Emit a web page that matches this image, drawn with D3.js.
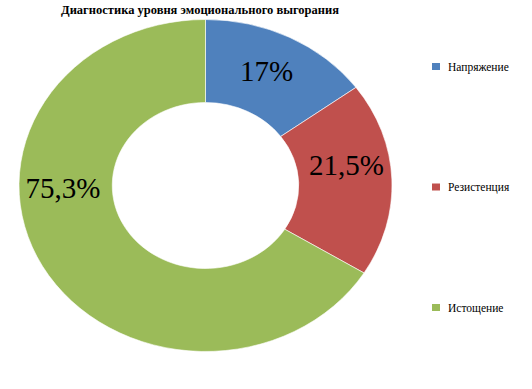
<!DOCTYPE html>
<html>
<head>
<meta charset="utf-8">
<script src="https://cdn.jsdelivr.net/npm/d3@7"></script>
<style>
  body { margin: 0; background: #fff; }
</style>
</head>
<body>
<div id="chart"></div>
<script>
// data
var categories = ["Напряжение", "Резистенция", "Истощение"];
var values = [17, 21.5, 75.3];
var labels = ["17%", "21,5%", "75,3%"];
var colors = ["#4F81BD", "#C0504D", "#9BBB59"];
// small angle nudges (deg) for the data labels, like the hand placed ones in the original
var labelNudge = [-1.5, -7, 28];

var width = 532, height = 389;
var cx = 205.5, cy = 185.5;
var outerR = 166, innerR = 83;
var stretch = 186.5 / 166;   // the original pie is a bit wider than tall
var serif = "'Times New Roman', Times, Tinos, 'Noto Serif', 'Liberation Serif', 'DejaVu Serif', serif";

var svg = d3.select("#chart")
  .append("svg")
  .attr("width", width)
  .attr("height", height);

// title
svg.append("text")
  .attr("x", 200)
  .attr("y", 14)
  .attr("text-anchor", "middle")
  .style("font-family", serif)
  .style("font-size", "12.5px")
  .style("font-weight", "bold")
  .text("Диагностика уровня эмоционального выгорания");

var pie = d3.pie().sort(null).value(function(d){ return d; });
var arcs = pie(values);

var arc = d3.arc().innerRadius(innerR).outerRadius(outerR);

var g = svg.append("g")
  .attr("transform", "translate(" + cx + "," + cy + ") scale(" + stretch + ",1)");

g.selectAll("path")
  .data(arcs)
  .enter()
  .append("path")
    .attr("d", arc)
    .attr("fill", function(d, i){ return colors[i]; })
    .attr("stroke", "#fff")
    .attr("stroke-width", 0.6)
    .attr("vector-effect", "non-scaling-stroke");

// data labels
var labelR = 127;
svg.selectAll(".lbl")
  .data(arcs)
  .enter()
  .append("text")
    .attr("class", "lbl")
    .attr("x", function(d, i){
      var a = (d.startAngle + d.endAngle) / 2 + labelNudge[i] * Math.PI / 180;
      return cx + Math.sin(a) * labelR * stretch;
    })
    .attr("y", function(d, i){
      var a = (d.startAngle + d.endAngle) / 2 + labelNudge[i] * Math.PI / 180;
      return cy - Math.cos(a) * labelR;
    })
    .attr("dy", "0.35em")
    .attr("text-anchor", "middle")
    .style("font-family", serif)
    .style("font-size", "29px")
    .attr("fill", "#000")
    .text(function(d, i){ return labels[i]; });

// legend
var legendY = d3.scalePoint()
  .domain(categories)
  .range([66.5, 307.5]);

var legend = svg.selectAll(".legend")
  .data(categories)
  .enter()
  .append("g")
    .attr("class", "legend")
    .attr("transform", function(d){ return "translate(432," + legendY(d) + ")"; });

legend.append("rect")
  .attr("x", 0)
  .attr("y", -3.5)
  .attr("width", 8)
  .attr("height", 7)
  .attr("fill", function(d, i){ return colors[i]; });

legend.append("text")
  .attr("x", 16)
  .attr("y", 0)
  .attr("dy", "0.35em")
  .style("font-family", serif)
  .style("font-size", "11.5px")
  .text(function(d){ return d; });
</script>
</body>
</html>
